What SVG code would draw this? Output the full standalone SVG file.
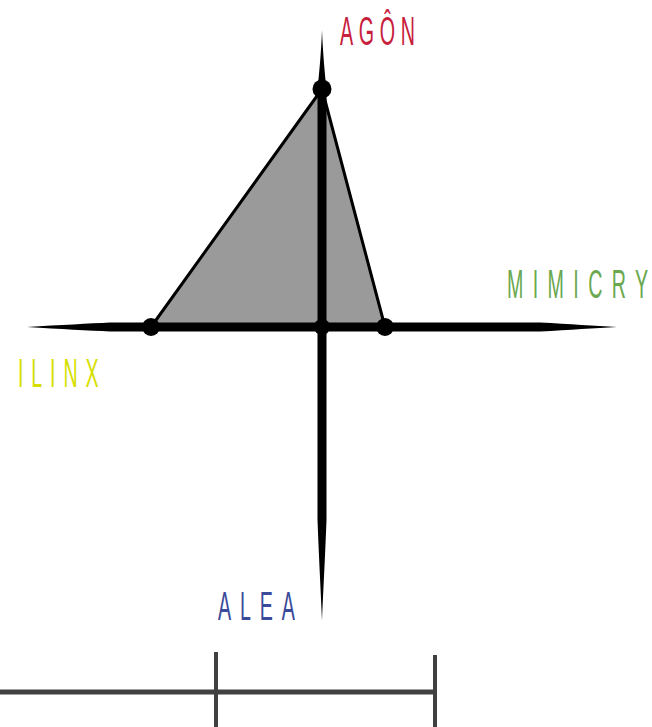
<svg xmlns="http://www.w3.org/2000/svg" width="652" height="727" viewBox="0 0 652 727">
<style>
.lbl{font-family:"Liberation Sans",Arial,sans-serif;font-size:41px}
.dot{fill:#000}
.scale{stroke:#404040;fill:none}
</style>
<rect width="652" height="727" fill="#fff"/>
<g id="triangle">
<polygon points="322,89 151,327 385,327" fill="#9a9a9a" stroke="#000" stroke-width="3" stroke-linejoin="round"/>
</g>
<g id="connectors">
<path d="M322,30 C323,55 325,75 326.5,89 L326.5,520 C325,560 323,595 322,621 C321,595 319,560 317.5,520 L317.5,89 C319,75 321,55 322,30 Z" fill="#000"/>
<path d="M27,327 C60,325 90,323.5 110,322.5 L540,322.5 C570,324 595,326 617,327 C595,328 570,330 540,331.5 L110,331.5 C90,330.5 60,329 27,327 Z" fill="#000"/>
</g>
<g id="agon-node"><circle class="dot" cx="322" cy="89" r="9.5"/>
<text class="lbl" fill="#c8203c" transform="translate(340,45) scale(0.48,1)" textLength="156" lengthAdjust="spacing">AGÔN</text></g>
<g id="ilinx-node"><circle class="dot" cx="151" cy="327" r="9"/>
<text class="lbl" fill="#d6e000" transform="translate(18,387) scale(0.48,1)" textLength="168" lengthAdjust="spacing">ILINX</text></g>
<g id="center-node"><circle class="dot" cx="322" cy="327" r="8"/></g>
<g id="mimicry-node"><circle class="dot" cx="385" cy="327" r="9"/>
<text class="lbl" fill="#6aa84f" transform="translate(507,298) scale(0.48,1)" textLength="294" lengthAdjust="spacing">MIMICRY</text></g>
<g id="alea-node">
<text class="lbl" fill="#3b4a9a" transform="translate(218,620) scale(0.48,1)" textLength="160" lengthAdjust="spacing">ALEA</text></g>
<g id="scale-bar">
<line class="scale" x1="0" y1="692" x2="435" y2="692" stroke-width="5"/>
<line class="scale" x1="216" y1="652" x2="216" y2="727" stroke-width="4"/>
<line class="scale" x1="435" y1="655" x2="435" y2="727" stroke-width="4"/>
</g>
</svg>
